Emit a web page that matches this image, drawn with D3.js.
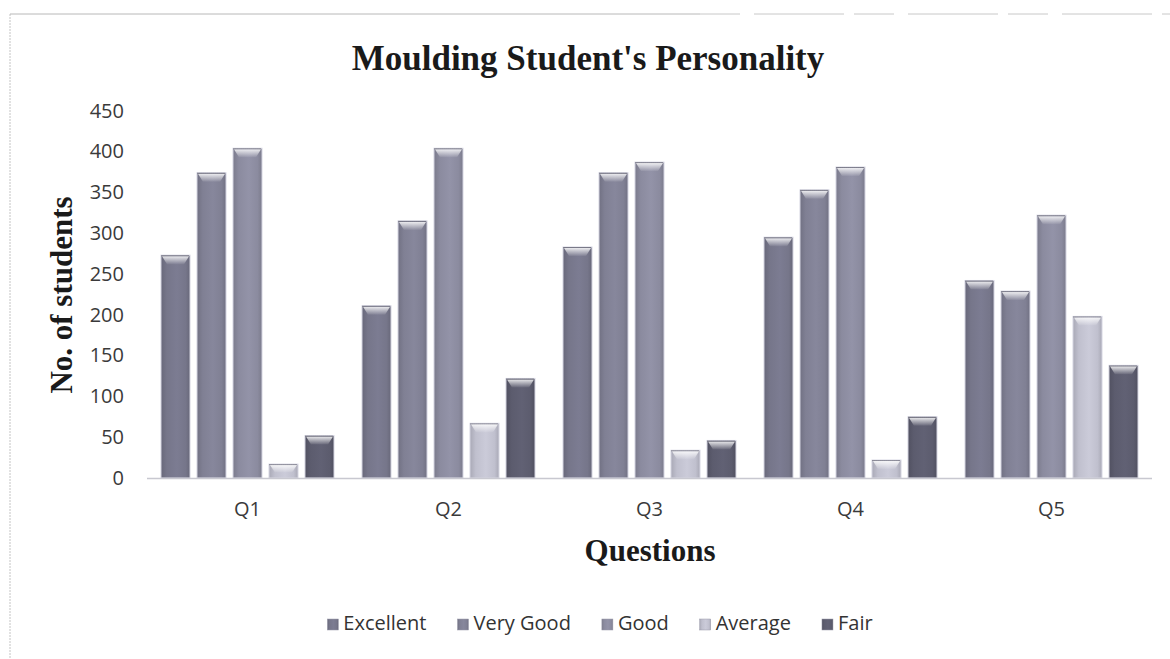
<!DOCTYPE html>
<html>
<head>
<meta charset="utf-8">
<script src="https://cdn.jsdelivr.net/npm/d3@7"></script>
<style>
  body { margin: 0; background: #fff; }
  svg { display: block; }
</style>
</head>
<body>
<div id="chart"></div>
<script>
// values
var questions = ['Q1', 'Q2', 'Q3', 'Q4', 'Q5'];
var seriesNames = ['Excellent', 'Very Good', 'Good', 'Average', 'Fair'];
var excellent = [273, 211, 283, 295, 242];
var veryGood  = [374, 315, 374, 353, 229];
var good      = [404, 404, 387, 381, 322];
var average   = [17, 67, 34, 22, 198];
var fair      = [52, 122, 46, 75, 138];
var yTicks = [0, 50, 100, 150, 200, 250, 300, 350, 400, 450];

var seriesValues = [excellent, veryGood, good, average, fair];
var colors = ['#76768a', '#808094', '#8b8b9f', '#c0c0ce', '#5c5c6e'];

var width = 1170, height = 659;
var plot = { left: 147, right: 1152, top: 110.7, bottom: 478 };

var svg = d3.select('#chart').append('svg')
  .attr('width', width).attr('height', height);

// gradients, one per series (edges darker, middle lighter)
var defs = svg.append('defs');
colors.forEach(function (c, i) {
  var g = defs.append('linearGradient').attr('id', 'grad' + i)
    .attr('x1', '0%').attr('x2', '100%').attr('y1', '0%').attr('y2', '0%');
  g.append('stop').attr('offset', '0%').attr('stop-color', d3.color(c).darker(0.35));
  g.append('stop').attr('offset', '20%').attr('stop-color', c);
  g.append('stop').attr('offset', '55%').attr('stop-color', d3.color(c).brighter(0.15));
  g.append('stop').attr('offset', '85%').attr('stop-color', c);
  g.append('stop').attr('offset', '100%').attr('stop-color', d3.color(c).darker(0.35));
});
var cap = defs.append('linearGradient').attr('id', 'cap')
  .attr('x1', '0%').attr('x2', '0%').attr('y1', '0%').attr('y2', '100%');
cap.append('stop').attr('offset', '0%').attr('stop-color', '#ffffff').attr('stop-opacity', 0.85);
cap.append('stop').attr('offset', '100%').attr('stop-color', '#ffffff').attr('stop-opacity', 0.05);

// frame of the scanned page
svg.append('line').attr('x1', 10).attr('x2', 10).attr('y1', 14).attr('y2', height)
  .attr('stroke', '#c4c4c4').attr('stroke-width', 1).attr('stroke-dasharray', '2,1');
svg.append('line').attr('x1', 10).attr('x2', 700).attr('y1', 14).attr('y2', 14)
  .attr('stroke', '#b8b8b8').attr('stroke-width', 1);
svg.append('line').attr('x1', 700).attr('x2', 1170).attr('y1', 14).attr('y2', 14)
  .attr('stroke', '#c8c8c8').attr('stroke-width', 1).attr('stroke-dasharray', '40,14,90,10');

var x0 = d3.scaleBand().domain(questions).range([plot.left, plot.right]);
var x1 = d3.scaleBand().domain(seriesNames).range([0, x0.bandwidth()])
  .paddingInner(0.194).paddingOuter(0.389);
var y = d3.scaleLinear().domain([0, 450]).range([plot.bottom, plot.top]);

// title
svg.append('text')
  .attr('x', 588).attr('y', 70)
  .attr('text-anchor', 'middle')
  .style('font-family', '"Liberation Serif", "Times New Roman", serif')
  .style('font-weight', 'bold').style('font-size', '35px').style('fill', '#1a1a1a')
  .text("Moulding Student's Personality");

// y axis (labels only)
var yAxis = d3.axisLeft(y).tickValues(yTicks).tickSize(0).tickPadding(0);
var gy = svg.append('g').attr('transform', 'translate(124,0)').call(yAxis);
gy.select('.domain').remove();
gy.selectAll('text')
  .style('font-family', '"Open Sans", sans-serif').style('font-size', '20px')
  .style('fill', '#3a3a3a');

svg.append('text')
  .attr('transform', 'translate(72,295) rotate(-90)')
  .attr('text-anchor', 'middle')
  .style('font-family', '"Liberation Serif", "Times New Roman", serif')
  .style('font-weight', 'bold').style('font-size', '31px').style('fill', '#1a1a1a')
  .text('No. of students');

// bars
var groups = svg.append('g').selectAll('g')
  .data(questions).enter().append('g')
  .attr('transform', function (q) { return 'translate(' + x0(q) + ',0)'; });

var bars = groups.selectAll('g.bar')
  .data(function (q, qi) {
    return seriesNames.map(function (s, si) {
      return { series: s, si: si, value: seriesValues[si][qi] };
    });
  })
  .enter().append('g').attr('class', 'bar');

bars.append('rect')
  .attr('x', function (d) { return x1(d.series); })
  .attr('y', function (d) { return y(d.value); })
  .attr('width', x1.bandwidth())
  .attr('height', function (d) { return y(0) - y(d.value); })
  .attr('fill', function (d) { return 'url(#grad' + d.si + ')'; })
  .attr('stroke', '#d6d6e2').attr('stroke-width', 1);

// bevel at the top of each bar
bars.append('path')
  .attr('d', function (d) {
    var bx = x1(d.series), bw = x1.bandwidth(), by = y(d.value);
    var h = Math.min(9, (y(0) - by) * 0.6);
    return 'M' + (bx + 1) + ',' + (by + 1) + 'L' + (bx + bw - 1) + ',' + (by + 1) +
      'L' + (bx + bw - 6) + ',' + (by + h) + 'L' + (bx + 6) + ',' + (by + h) + 'Z';
  })
  .attr('fill', 'url(#cap)');
bars.append('line')
  .attr('x1', function (d) { return x1(d.series) + 0.5; })
  .attr('x2', function (d) { return x1(d.series) + x1.bandwidth() - 0.5; })
  .attr('y1', function (d) { return y(d.value) + 0.5; })
  .attr('y2', function (d) { return y(d.value) + 0.5; })
  .attr('stroke', '#4a4a58').attr('stroke-width', 1).attr('stroke-dasharray', '1,1');

// x axis
svg.append('line')
  .attr('x1', plot.left).attr('x2', plot.right)
  .attr('y1', plot.bottom + 0.5).attr('y2', plot.bottom + 0.5)
  .attr('stroke', '#c8c8d0').attr('stroke-width', 1.5);
var xAxis = d3.axisBottom(x0).tickSize(0).tickPadding(0);
var gx = svg.append('g').attr('transform', 'translate(0,' + plot.bottom + ')').call(xAxis);
gx.select('.domain').remove();
gx.selectAll('text')
  .attr('y', 38).attr('dy', 0)
  .style('font-family', '"Open Sans", sans-serif').style('font-size', '20px')
  .style('fill', '#3a3a3a');

svg.append('text')
  .attr('x', 650).attr('y', 561)
  .attr('text-anchor', 'middle')
  .style('font-family', '"Liberation Serif", "Times New Roman", serif')
  .style('font-weight', 'bold').style('font-size', '31px').style('fill', '#1a1a1a')
  .text('Questions');

// legend, laid out from the text widths
var legend = svg.append('g');
var items = legend.selectAll('g').data(seriesNames).enter().append('g');
items.append('rect')
  .attr('x', 0).attr('y', -11).attr('width', 11).attr('height', 11)
  .attr('fill', function (d, i) { return 'url(#grad' + i + ')'; })
  .attr('stroke', '#9a9aaa').attr('stroke-width', 0.5);
items.append('text')
  .attr('x', 16).attr('y', 0)
  .style('font-family', '"Open Sans", sans-serif').style('font-size', '20px')
  .style('fill', '#333')
  .text(function (d) { return d; });
var cursor = 0;
items.each(function () {
  var w = this.getBBox().width;
  d3.select(this).attr('transform', 'translate(' + cursor + ',0)');
  cursor += w + 31;
});
var total = cursor - 31;
legend.attr('transform', 'translate(' + (600 - total / 2) + ',630)');
</script>
</body>
</html>
